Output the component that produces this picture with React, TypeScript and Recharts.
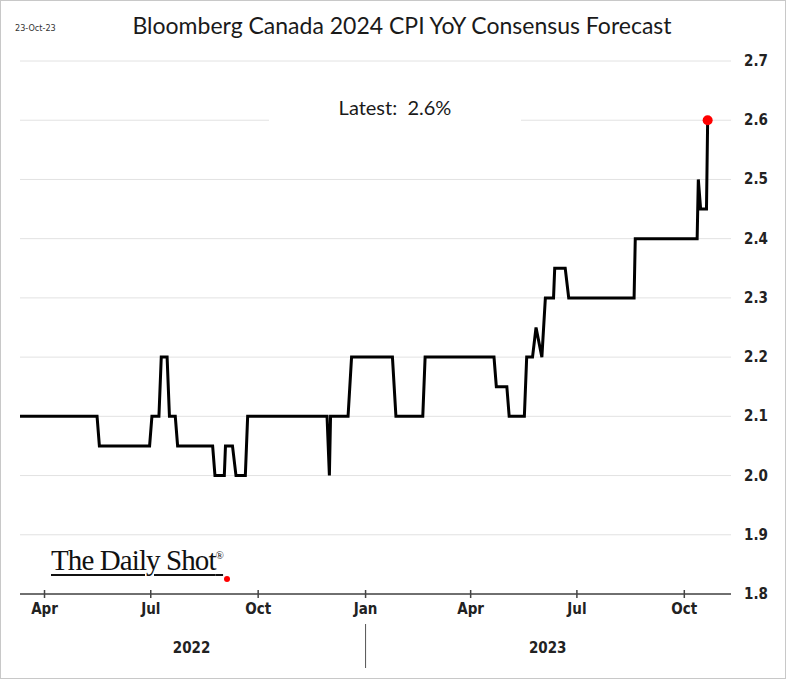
import React from 'react';
import { LineChart, Line, XAxis, YAxis, CartesianGrid } from 'recharts';

// change points of the consensus forecast (date, value)
const dates = [
  '2022-03-11', '2022-05-16', '2022-05-18', '2022-06-30', '2022-07-02', '2022-07-08', '2022-07-10',
  '2022-07-15', '2022-07-17', '2022-07-22', '2022-07-24', '2022-08-23', '2022-08-25', '2022-09-02',
  '2022-09-03', '2022-09-09', '2022-09-12', '2022-09-20', '2022-09-22', '2022-11-29', '2022-12-01',
  '2022-12-02', '2022-12-17', '2022-12-20', '2023-01-24', '2023-01-27', '2023-02-19', '2023-02-21',
  '2023-04-21', '2023-04-23', '2023-05-02', '2023-05-04', '2023-05-17', '2023-05-19', '2023-05-24',
  '2023-05-27', '2023-06-01', '2023-06-04', '2023-06-11', '2023-06-12', '2023-06-21', '2023-06-24',
  '2023-08-19', '2023-08-20', '2023-10-12', '2023-10-13', '2023-10-15', '2023-10-20', '2023-10-21',
];
const values = [
  2.1, 2.1, 2.05, 2.05, 2.1, 2.1, 2.2,
  2.2, 2.1, 2.1, 2.05, 2.05, 2.0, 2.0,
  2.05, 2.05, 2.0, 2.0, 2.1, 2.1, 2.0,
  2.1, 2.1, 2.2, 2.2, 2.1, 2.1, 2.2,
  2.2, 2.15, 2.15, 2.1, 2.1, 2.2, 2.2,
  2.25, 2.2, 2.3, 2.3, 2.35, 2.35, 2.3,
  2.3, 2.4, 2.4, 2.5, 2.45, 2.45, 2.6,
];

const monthTicks = ['2022-04-01', '2022-07-01', '2022-10-01', '2023-01-01', '2023-04-01', '2023-07-01', '2023-10-01'];
const monthLabels = ['Apr', 'Jul', 'Oct', 'Jan', 'Apr', 'Jul', 'Oct'];
const yearTicks = ['2022-08-05', '2023-01-01', '2023-06-06'];
const yearLabels = ['2022', '', '2023'];
const yTicks = [1.8, 1.9, 2.0, 2.1, 2.2, 2.3, 2.4, 2.5, 2.6, 2.7];

const domainStart = '2022-03-11';
const domainEnd = '2023-11-10';

const ts = (d: string) => Date.parse(d + 'T00:00:00Z');

const data = dates.map((d, i) => ({ t: ts(d), v: values[i] }));

const narrow = '"DejaVu Sans Condensed", "Liberation Sans", sans-serif';
const calibri = 'Lato, "Open Sans", sans-serif';

const MonthTick = (props: any) => {
  const { x, y, payload } = props;
  const i = monthTicks.findIndex((m) => ts(m) === payload.value);
  return (
    <g>
      <line x1={x} x2={x} y1={y - 4} y2={y + 4} stroke="#444" strokeWidth={1.5} />
      <text x={x} y={y + 20} textAnchor="middle" fontFamily={narrow} fontWeight="bold" fontSize={15} fill="#222">
        {monthLabels[i]}
      </text>
    </g>
  );
};

const YearTick = (props: any) => {
  const { x, y, payload } = props;
  const i = yearTicks.findIndex((m) => ts(m) === payload.value);
  if (!yearLabels[i]) {
    return <line x1={x} x2={x} y1={y} y2={y + 44} stroke="#555" strokeWidth={1} />;
  }
  return (
    <text x={x} y={y + 29} textAnchor="middle" fontFamily={narrow} fontWeight="bold" fontSize={15} fill="#222">
      {yearLabels[i]}
    </text>
  );
};

const ValueTick = (props: any) => {
  const { x, y, payload } = props;
  return (
    <text x={x} y={y + 5} textAnchor="start" fontFamily={narrow} fontWeight="bold" fontSize={15} fill="#222">
      {Number(payload.value).toFixed(1)}
    </text>
  );
};

const LastDot = (props: any) => {
  const { cx, cy, index } = props;
  if (index !== data.length - 1) return <g key={`d-${index}`} />;
  return <circle key={`d-${index}`} cx={cx} cy={cy} r={5} fill="#ff0000" />;
};

export default function App() {
  return (
    <div
      style={{
        position: 'absolute',
        left: 0,
        top: 0,
        width: 786,
        height: 679,
        background: '#fff',
        border: '1px solid #c8c8c8',
        boxSizing: 'border-box',
      }}
    >
      <div style={{ position: 'absolute', left: 0, top: 0 }}>
        <LineChart width={786} height={679} data={data} margin={{ top: 60, right: 0, left: 19, bottom: 12 }}>
          <CartesianGrid vertical={false} stroke="#e2e2e2" strokeWidth={1} />
          <XAxis
            dataKey="t"
            type="number"
            domain={[ts(domainStart), ts(domainEnd)]}
            ticks={monthTicks.map(ts)}
            interval={0}
            height={30}
            tickSize={0}
            tickMargin={0}
            tick={<MonthTick />}
            tickLine={false}
            axisLine={{ stroke: '#444', strokeWidth: 1.5 }}
            allowDataOverflow
          />
          <XAxis
            xAxisId="yr"
            dataKey="t"
            type="number"
            domain={[ts(domainStart), ts(domainEnd)]}
            ticks={yearTicks.map(ts)}
            interval={0}
            height={44}
            tickSize={0}
            tickMargin={0}
            tick={<YearTick />}
            tickLine={false}
            axisLine={false}
            allowDataOverflow
          />
          <YAxis
            orientation="right"
            width={56}
            domain={[1.8, 2.7]}
            ticks={yTicks}
            interval={0}
            tickSize={0}
            tickMargin={13}
            tick={<ValueTick />}
            tickLine={false}
            axisLine={false}
          />
          <Line
            type="linear"
            dataKey="v"
            stroke="#000"
            strokeWidth={3}
            dot={<LastDot />}
            activeDot={false}
            isAnimationActive={false}
          />
        </LineChart>
      </div>
      <div
        style={{
          position: 'absolute',
          left: 14,
          top: 22,
          fontFamily: narrow,
          fontSize: 9,
          color: '#333',
        }}
      >
        23-Oct-23
      </div>
      <div
        style={{
          position: 'absolute',
          left: 0,
          width: 802,
          top: 10,
          textAlign: 'center',
          fontFamily: calibri,
          fontSize: 23,
          color: '#1a1a1a',
        }}
      >
        Bloomberg Canada 2024 CPI YoY Consensus Forecast
      </div>
      <div
        style={{
          position: 'absolute',
          left: 268,
          top: 92,
          width: 252,
          height: 36,
          background: '#fff',
          textAlign: 'center',
          lineHeight: '28px',
          fontFamily: calibri,
          fontSize: 20,
          color: '#1a1a1a',
          whiteSpace: 'pre',
        }}
      >
        {'Latest:  2.6%'}
      </div>
      <div
        style={{
          position: 'absolute',
          left: 50,
          top: 543,
          fontFamily: '"Liberation Serif", "DejaVu Serif", serif',
          fontSize: 29,
          letterSpacing: -0.9,
          color: '#111',
          textDecoration: 'underline',
          textDecorationThickness: '2px',
          textUnderlineOffset: '4px',
          whiteSpace: 'nowrap',
        }}
      >
        The Daily Shot<sup style={{ fontSize: 11, textDecoration: 'none' }}>®</sup>
      </div>
      <div
        style={{
          position: 'absolute',
          left: 223,
          top: 575,
          width: 6,
          height: 6,
          borderRadius: 3,
          background: '#ff0000',
        }}
      />
    </div>
  );
}
